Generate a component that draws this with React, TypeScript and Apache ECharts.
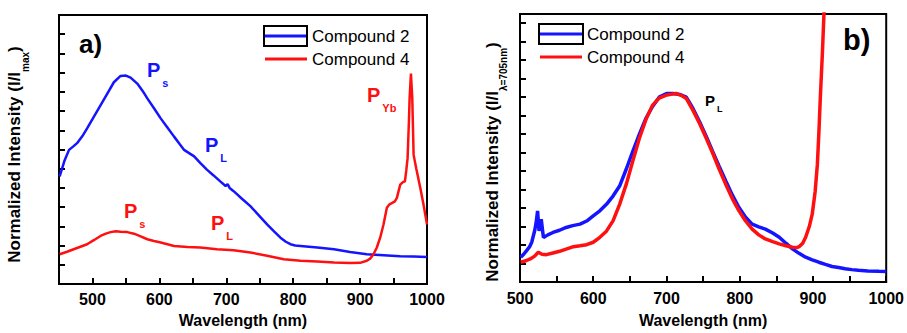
import React, { useEffect, useRef } from 'react';
import * as echarts from 'echarts';

const FONT = '"Liberation Sans", Arial, Helvetica, sans-serif';

// ---- Panel a) data (normalized intensity, arbitrary units) ----
const aWl2 = [451, 458, 465, 471, 477, 485, 492, 502, 512, 522, 532, 542, 550, 557, 567, 575, 582, 592, 602, 612, 622, 630, 637, 645, 652, 661, 671, 681, 691, 699, 702, 705, 711, 723, 736, 748, 761, 771, 781, 789, 796, 803, 811, 836, 861, 885, 910, 935, 960, 980, 1000];
const aI2 = [5.6, 6.4, 6.98, 7.15, 7.33, 7.7, 8.1, 8.7, 9.3, 9.9, 10.5, 10.83, 10.85, 10.74, 10.43, 10.05, 9.66, 9.15, 8.62, 8.15, 7.67, 7.3, 6.98, 6.8, 6.64, 6.3, 5.95, 5.65, 5.34, 5.1, 5.2, 5.0, 4.83, 4.45, 4.05, 3.6, 3.1, 2.75, 2.41, 2.2, 2.07, 2.0, 1.98, 1.9, 1.81, 1.67, 1.55, 1.5, 1.45, 1.43, 1.41];
const aWl4 = [451, 462, 472, 482, 492, 502, 512, 520, 527, 535, 542, 552, 562, 572, 582, 592, 602, 612, 622, 642, 661, 686, 711, 736, 761, 786, 811, 836, 861, 885, 900, 910, 915, 920, 925, 930, 935, 940, 944, 948, 952, 955, 958, 960, 964, 967, 969, 971, 973, 974, 976, 978, 980, 984, 990, 995, 1000];
const aI4 = [1.55, 1.68, 1.81, 1.94, 2.07, 2.28, 2.5, 2.62, 2.7, 2.74, 2.72, 2.7, 2.62, 2.48, 2.33, 2.24, 2.16, 2.07, 1.98, 1.93, 1.9, 1.81, 1.76, 1.64, 1.47, 1.29, 1.21, 1.17, 1.12, 1.09, 1.1, 1.21, 1.32, 1.55, 1.9, 2.41, 3.1, 3.97, 4.15, 4.22, 4.3, 4.48, 4.9, 5.17, 5.3, 5.34, 5.9, 6.55, 8.5, 9.66, 10.95, 9.66, 6.72, 6.0, 5.0, 4.1, 3.1];

// ---- Panel b) data ----
const bWl2 = [501, 505, 509, 513, 516, 520, 522, 524, 526, 528, 529, 532, 538, 545, 554, 563, 572, 582, 591, 600, 609, 618, 627, 636, 645, 654, 663, 672, 681, 690, 700, 709, 718, 727, 736, 745, 754, 763, 772, 781, 790, 799, 808, 817, 826, 835, 845, 854, 863, 872, 881, 890, 899, 908, 917, 926, 935, 944, 953, 962, 975, 990, 1000];
const bI2 = [1.34, 1.5, 1.7, 1.9, 2.15, 2.77, 3.2, 3.85, 2.77, 3.1, 3.4, 2.4, 2.55, 2.68, 2.8, 2.95, 3.05, 3.13, 3.3, 3.58, 3.85, 4.2, 4.65, 5.19, 6.1, 7.07, 8.0, 8.86, 9.5, 10.0, 10.2, 10.2, 10.15, 10.0, 9.4, 8.68, 7.9, 7.07, 6.25, 5.46, 4.7, 4.03, 3.5, 3.13, 2.98, 2.86, 2.65, 2.42, 2.1, 1.79, 1.55, 1.34, 1.2, 1.07, 0.95, 0.84, 0.78, 0.72, 0.67, 0.63, 0.6, 0.58, 0.57];
const bWl4 = [501, 508, 514, 520, 525, 530, 536, 545, 554, 563, 573, 582, 591, 600, 609, 618, 627, 636, 645, 654, 663, 672, 681, 690, 699, 706, 713, 720, 727, 736, 745, 754, 763, 772, 781, 790, 799, 808, 817, 826, 835, 845, 854, 863, 872, 878, 881, 886, 890, 895, 899, 903, 906, 908, 910, 913, 915, 920];
const bI4 = [1.07, 1.15, 1.25, 1.4, 1.61, 1.5, 1.48, 1.57, 1.66, 1.78, 1.91, 1.96, 2.02, 2.15, 2.42, 2.75, 3.31, 4.2, 5.28, 6.55, 7.78, 8.8, 9.57, 9.95, 10.1, 10.15, 10.2, 10.1, 9.93, 9.3, 8.59, 7.8, 6.98, 6.1, 5.28, 4.5, 3.85, 3.3, 2.86, 2.55, 2.33, 2.18, 2.06, 1.96, 1.88, 1.86, 1.91, 2.1, 2.42, 3.0, 3.67, 4.9, 6.35, 8.0, 9.93, 12.5, 14.5, 16.5];

const legendNames = ['Compound 2', 'Compound 4'];
const xLabelValues = [500, 600, 700, 800, 900, 1000];

const zip = (xs: number[], ys: number[]) => xs.map((x, i) => [x, ys[i]]);

const BLUE = '#1414ff';
const RED = '#ff1010';

function xAxisCfg(grid: number, min: number, nameGap: number, margin: number) {
  return {
    gridIndex: grid,
    type: 'value',
    min,
    max: 1000,
    interval: 50,
    axisLine: { show: true, lineStyle: { color: '#000', width: 2 } },
    axisTick: { show: false },
    axisLabel: {
      customValues: xLabelValues,
      formatter: (v: number) => String(v),
      color: '#000',
      fontSize: 16,
      fontWeight: 'bold',
      fontFamily: FONT,
      margin,
    },
    splitLine: { show: false },
    name: 'Wavelength (nm)',
    nameLocation: 'middle',
    nameGap,
    nameTextStyle: { color: '#000', fontSize: 16, fontWeight: 'bold', fontFamily: FONT },
  };
}

// plain companion axis that only carries the inward ticks (same scale as the labelled axis)
function xTickAxisCfg(grid: number, min: number) {
  return {
    gridIndex: grid,
    type: 'value',
    position: 'bottom',
    min,
    max: 1000,
    interval: 50,
    axisLine: { show: false },
    axisTick: { show: true, inside: true, length: 6, lineStyle: { color: '#000', width: 2 } },
    axisLabel: { show: false },
    splitLine: { show: false },
  };
}

function yAxisCfg(grid: number, max: number, name: string, nameGap: number, padding: number[]) {
  return {
    gridIndex: grid,
    type: 'value',
    min: 0,
    max,
    interval: 1,
    axisLine: { show: true, lineStyle: { color: '#000', width: 2 } },
    axisTick: { show: true, inside: true, length: 6, lineStyle: { color: '#000', width: 2 } },
    axisLabel: { show: false },
    splitLine: { show: false },
    name,
    nameLocation: 'middle',
    nameRotate: 90,
    nameGap,
    nameTextStyle: {
      color: '#000',
      fontFamily: FONT,
      padding,
      rich: {
        b: { fontSize: 17, fontWeight: 'bold', fontFamily: FONT, color: '#000', verticalAlign: 'top' },
        s: { fontSize: 10, fontWeight: 'bold', fontFamily: FONT, color: '#000', verticalAlign: 'bottom', lineHeight: 24 },
      },
    },
  };
}

function peakLabel(x: number, y: number, main: string, sub: string, color: string, big = true) {
  const pSize = big ? 20 : 15;
  const sSize = big ? 11 : 9;
  return {
    type: 'text',
    x,
    y,
    z: 20,
    style: {
      text: `{p|${main}}{s|${sub}}`,
      rich: {
        p: { fontSize: pSize, fontWeight: 'bold', fontFamily: FONT, fill: color, color, verticalAlign: 'top' },
        s: { fontSize: sSize, fontWeight: 'bold', fontFamily: FONT, fill: color, color, verticalAlign: 'bottom', lineHeight: big ? 28 : 20, padding: [0, 0, 0, 2] },
      },
    },
  };
}

function legendCfg(name: string, left: number, top: number) {
  return {
    data: [name],
    left,
    top,
    padding: 0,
    itemGap: 0,
    itemWidth: 42,
    itemHeight: 3,
    icon: 'rect',
    selectedMode: false,
    textStyle: { color: '#000', fontSize: 17, fontFamily: FONT, lineHeight: 18 },
  };
}

export default function App() {
  const ref = useRef<HTMLDivElement>(null);
  useEffect(() => {
    if (!ref.current) return;
    const chart = echarts.init(ref.current, undefined, { renderer: 'svg' });
    const lineSeries = (name: string, data: number[][], color: string, grid: number, width: number) => ({
      name,
      type: 'line',
      xAxisIndex: grid,
      yAxisIndex: grid,
      data,
      showSymbol: false,
      symbol: 'none',
      clip: true,
      lineStyle: { color, width },
      itemStyle: { color },
      z: 3,
    });
    chart.setOption({
      animation: false,
      backgroundColor: '#fff',
      grid: [
        { left: 59, right: 480, top: 15, bottom: 46, show: true, borderColor: '#000', borderWidth: 2 },
        { left: 520, right: 20, top: 14, bottom: 48, show: true, borderColor: '#000', borderWidth: 2 },
      ],
      xAxis: [xAxisCfg(0, 450, 28, 7), xAxisCfg(1, 500, 30, 8), xTickAxisCfg(0, 450), xTickAxisCfg(1, 500)],
      yAxis: [
        yAxisCfg(0, 14, '{b|Normalized Intensity (I/I}{s|max}{b|)}', 29, [0, 10, 0, 0]),
        yAxisCfg(1, 14.5, '{b|Normalized Intensity (I/I}{s|λ=705nm}{b|)}', 12, [0, 28, 0, 0]),
      ],
      legend: [
        legendCfg(legendNames[0], 265, 27),
        legendCfg(legendNames[1], 265, 50),
        legendCfg(legendNames[0], 540, 25),
        legendCfg(legendNames[1], 540, 48),
      ],
      series: [
        lineSeries(legendNames[0], zip(aWl2, aI2), BLUE, 0, 2.5),
        lineSeries(legendNames[1], zip(aWl4, aI4), RED, 0, 2.5),
        lineSeries(legendNames[0], zip(bWl2, bI2), BLUE, 1, 3.5),
        lineSeries(legendNames[1], zip(bWl4, bI4), RED, 1, 3.5),
      ],
      graphic: [
        { type: 'rect', z: 30, shape: { x: 264, y: 26, width: 43, height: 20 }, style: { fill: 'none', stroke: '#000', lineWidth: 2 } },
        { type: 'rect', z: 30, shape: { x: 539, y: 24, width: 44, height: 20 }, style: { fill: 'none', stroke: '#000', lineWidth: 2 } },
        { type: 'text', x: 79, y: 31, z: 20, style: { text: 'a)', fontSize: 26, fontWeight: 'bold', fontFamily: FONT, fill: '#000' } },
        { type: 'text', x: 843, y: 25, z: 20, style: { text: 'b)', fontSize: 29, fontWeight: 'bold', fontFamily: FONT, fill: '#000' } },
        peakLabel(147, 60, 'P', 's', BLUE),
        peakLabel(205, 135, 'P', 'L', BLUE),
        peakLabel(124, 201, 'P', 's', RED),
        peakLabel(211, 213, 'P', 'L', RED),
        peakLabel(367, 85, 'P', 'Yb', RED),
        peakLabel(705, 93, 'P', 'L', '#000', false),
      ],
    });
    return () => chart.dispose();
  }, []);
  return <div ref={ref} style={{ position: 'absolute', left: 0, top: 0, width: 907, height: 333 }} />;
}
